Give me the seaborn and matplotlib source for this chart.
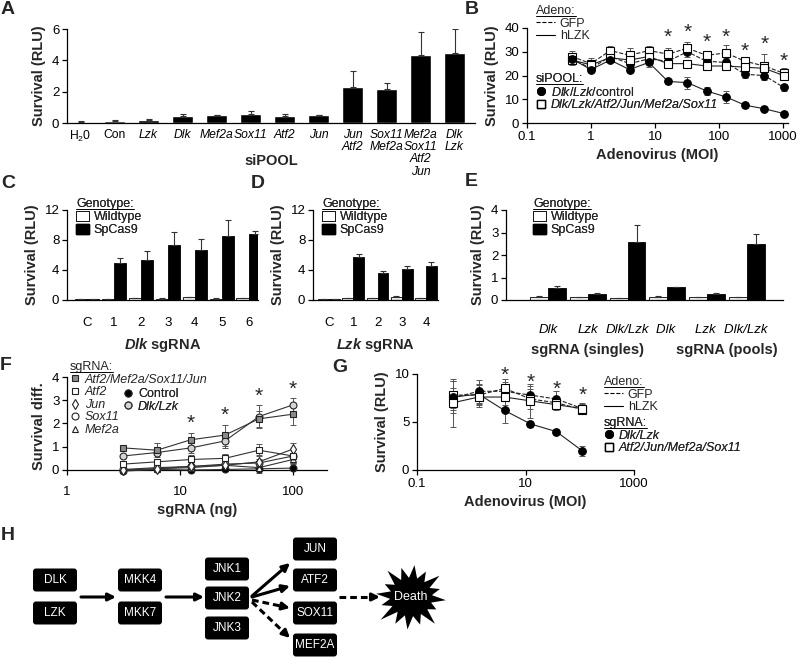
import numpy as np
import pandas as pd
import seaborn as sns
import matplotlib.pyplot as plt
from matplotlib import font_manager as fm
from matplotlib.lines import Line2D
from matplotlib.patches import Patch, FancyBboxPatch, Polygon
from matplotlib.transforms import blended_transform_factory

sns.set_theme(style='ticks')
plt.rcParams['font.family'] = ['Liberation Sans', 'DejaVu Sans']


def pick_italic():
    # want an upright-weight italic; some families only ship bold italic
    for fam in ['Liberation Sans', 'Arimo', 'Noto Sans', 'Open Sans', 'Roboto', 'Lato', 'Inter', 'DejaVu Sans']:
        for f in fm.fontManager.ttflist:
            if f.name == fam and f.style in ('italic', 'oblique') and f.weight in (400, 'normal', 'regular', 'book'):
                return fam
    return 'DejaVu Sans'


ITAL = pick_italic()
plt.rcParams.update({
    'mathtext.fontset': 'custom',
    'mathtext.rm': 'Liberation Sans',
    'mathtext.it': ITAL + ':italic',
    'mathtext.bf': 'Liberation Sans:bold',
    'axes.linewidth': 0.9,
    'axes.edgecolor': 'black',
    'xtick.color': 'black', 'ytick.color': 'black',
    'xtick.major.size': 3.5, 'ytick.major.size': 3.5,
    'xtick.major.width': 0.9, 'ytick.major.width': 0.9,
    'xtick.labelsize': 9.5, 'ytick.labelsize': 9.5,
    'axes.labelsize': 10.5, 'axes.labelweight': 'bold',
    'legend.fontsize': 9,
})
if 'mathtext.bfit' in plt.rcParams:
    plt.rcParams['mathtext.bfit'] = 'Liberation Sans:italic:bold'


def ital(size=9):
    return fm.FontProperties(family=[ITAL], style='italic', weight='normal', size=size)


# ---- A: siPOOL knockdown
a_labels = ['H$_2$0', 'Con', 'Lzk', 'Dlk', 'Mef2a', 'Sox11', 'Atf2', 'Jun',
            'Jun\nAtf2', 'Sox11\nMef2a', 'Mef2a\nSox11\nAtf2\nJun', 'Dlk\nLzk']
a_vals = [0.08, 0.15, 0.22, 0.45, 0.48, 0.55, 0.42, 0.48, 2.3, 2.15, 4.35, 4.5]
a_err = [0.02, 0.03, 0.03, 0.12, 0.04, 0.22, 0.15, 0.06, 1.0, 0.38, 1.45, 1.5]

# ---- B: adenovirus dose, siPOOL
b_moi = [0.5, 1, 2, 4, 8, 16, 32, 64, 128, 256, 512, 1024]
b_ctrl_gfp = [27, 23, 28, 25, 27, 26, 30, 26, 25.5, 20.5, 20, 15]
b_ctrl_gfp_err = [2, 1.5, 1.5, 2, 1.5, 2, 2, 2, 2, 1.5, 2, 1.5]
b_ctrl_lzk = [27, 22.5, 26.5, 22.5, 25.5, 17.5, 17, 13.5, 11, 7.5, 6, 4]
b_ctrl_lzk_err = [2, 1, 1, 1, 2, 1, 2.5, 1.5, 2.5, 1, 1, 1]
b_kd_gfp = [28, 25, 30.5, 28.5, 30.5, 29, 31.5, 28.5, 29.5, 26, 24, 21]
b_kd_gfp_err = [2.5, 2.5, 2, 3, 2, 2.5, 2.5, 2, 3.5, 2, 5, 2]
b_kd_lzk = [26.5, 24.5, 27.5, 26.5, 28, 25, 25, 24, 24, 23.5, 23, 20]
b_kd_lzk_err = [2, 2, 1.5, 2, 2, 1, 1, 1.5, 1.5, 1.5, 2, 1.5]
b_star_moi = [16, 32, 64, 128, 256, 512, 1024]
b_star_y = [36, 38, 34, 36, 30, 33, 26]

# ---- C: Dlk sgRNA
c_cats = ['C', '1', '2', '3', '4', '5', '6']
c_wt = [0.1, 0.1, 0.3, 0.2, 0.4, 0.2, 0.3]
c_wt_err = [0.02, 0.02, 0.03, 0.03, 0.03, 0.03, 0.03]
c_cas = [0.15, 4.9, 5.3, 7.3, 6.7, 8.5, 8.8]
c_cas_err = [0.05, 0.7, 1.3, 1.8, 1.5, 2.2, 0.4]

# ---- D: Lzk sgRNA
d_cats = ['C', '1', '2', '3', '4']
d_wt = [0.1, 0.3, 0.3, 0.45, 0.25]
d_wt_err = [0.02, 0.03, 0.03, 0.03, 0.03]
d_cas = [0.15, 5.7, 3.6, 4.1, 4.6]
d_cas_err = [0.03, 0.4, 0.3, 0.45, 0.45]

# ---- E: singles vs pools (trailing space keeps categories unique)
e_cats = ['Dlk', 'Lzk', 'Dlk/Lzk', 'Dlk ', 'Lzk ', 'Dlk/Lzk ']
e_wt = [0.15, 0.12, 0.1, 0.15, 0.12, 0.12]
e_wt_err = [0.01, 0.01, 0.01, 0.01, 0.01, 0.01]
e_cas = [0.55, 0.27, 2.6, 0.57, 0.27, 2.5]
e_cas_err = [0.06, 0.03, 0.75, 0.01, 0.04, 0.42]

# ---- F: sgRNA dose
f_ng = [3.125, 6.25, 12.5, 25, 50, 100]
f_pool = [0.95, 0.85, 1.3, 1.5, 2.2, 2.4]
f_pool_err = [0.1, 0.3, 0.3, 0.45, 0.35, 0.45]
f_atf2 = [0.25, 0.35, 0.45, 0.5, 0.85, 0.6]
f_atf2_err = [0.08, 0.1, 0.2, 0.2, 0.25, 0.3]
f_jun = [0.0, 0.05, 0.15, 0.2, 0.35, 0.9]
f_jun_err = [0.05, 0.1, 0.1, 0.15, 0.3, 0.25]
f_sox11 = [0.02, 0.1, 0.15, 0.25, 0.3, 0.6]
f_sox11_err = [0.05, 0.1, 0.1, 0.1, 0.15, 0.3]
f_mef2a = [0.0, 0.05, 0.1, 0.2, 0.1, 0.45]
f_mef2a_err = [0.05, 0.05, 0.1, 0.1, 0.1, 0.2]
f_ctrl = [-0.05, 0.02, 0.0, 0.02, 0.05, 0.08]
f_ctrl_err = [0.03, 0.05, 0.05, 0.05, 0.2, 0.1]
f_dlklzk = [0.6, 0.75, 0.95, 1.25, 2.3, 2.8]
f_dlklzk_err = [0.05, 0.1, 0.2, 0.3, 0.5, 0.3]
f_star_ng = [12.5, 25, 50, 100]
f_star_y = [2.0, 2.35, 3.15, 3.45]

# ---- G: adenovirus dose, sgRNA
g_moi = [0.457, 1.37, 4.12, 12.35, 37.04, 111.1]
g_dl_gfp = [7.5, 8.2, 8.2, 7.8, 7.4, 6.4]
g_dl_gfp_err = [1.0, 1.2, 1.0, 1.0, 0.8, 0.6]
g_dl_lzk = [7.6, 7.9, 6.2, 4.8, 4.0, 2.0]
g_dl_lzk_err = [1.7, 1.0, 1.3, 0.35, 0.3, 0.5]
g_kd_gfp = [7.8, 7.8, 8.5, 7.4, 7.0, 6.3]
g_kd_gfp_err = [1.5, 1.2, 1.0, 1.0, 0.6, 0.5]
g_kd_lzk = [7.0, 7.6, 7.6, 7.2, 6.8, 6.4]
g_kd_lzk_err = [2.5, 0.8, 0.8, 1.8, 0.6, 0.5]
g_star_moi = [4.12, 12.35, 37.04, 111.1]
g_star_y = [9.9, 9.1, 8.4, 7.8]

# ---- H: pathway
h_nodes = ['DLK', 'LZK', 'MKK4', 'MKK7', 'JNK1', 'JNK2', 'JNK3', 'JUN', 'ATF2', 'SOX11', 'MEF2A']

W, H = 800, 657
fig = plt.figure(figsize=(8, 6.57), dpi=100)
to_underline = []


def add_ax(x0, y0, x1, y1):
    return fig.add_axes([x0 / W, 1 - y1 / H, (x1 - x0) / W, (y1 - y0) / H])


def make_legend(ax, handles, labels, title, px, **kw):
    opts = dict(loc='upper left', frameon=False, alignment='left', borderpad=0,
                borderaxespad=0, labelspacing=0.05, handletextpad=0.4,
                fontsize=9, title_fontsize=9)
    opts.update(kw)
    leg = ax.legend(handles, labels, title=title,
                    bbox_to_anchor=(px[0] / W, 1 - px[1] / H),
                    bbox_transform=fig.transFigure, **opts)
    if title:
        to_underline.append(leg.get_title())
    ax.add_artist(leg)
    return leg


def bar_err(ax, container, errs):
    xs = [b.get_x() + b.get_width() / 2 for b in container]
    hs = [b.get_height() for b in container]
    ax.errorbar(xs, hs, yerr=[np.zeros(len(errs)), errs], fmt='none', ecolor='#333333',
                elinewidth=0.8, capsize=2.5, capthick=0.8, zorder=3)


def style_ax(ax):
    sns.despine(ax=ax)
    ax.tick_params(direction='out', pad=2)


def geno_bars(ax, cats, wt, wt_err, cas, cas_err):
    df = pd.DataFrame({'sg': list(cats) * 2,
                       'geno': ['Wildtype'] * len(cats) + ['SpCas9'] * len(cats),
                       'rlu': list(wt) + list(cas)})
    sns.barplot(data=df, x='sg', y='rlu', hue='geno',
                palette={'Wildtype': '#ececec', 'SpCas9': 'black'}, width=0.9,
                edgecolor='black', linewidth=0.6, errorbar=None, saturation=1,
                legend=False, ax=ax)
    for cont, errs in zip(ax.containers, [wt_err, cas_err]):
        bar_err(ax, cont, errs)
    style_ax(ax)
    ax.tick_params(axis='x', length=0, pad=12)
    ax.set_ylabel('Survival (RLU)')


def geno_legend(ax, px):
    make_legend(ax, [Patch(fc='white', ec='black', lw=0.6), Patch(fc='black', ec='black')],
                ['Wildtype', 'SpCas9'], 'Genotype:', px, handlelength=1.0,
                handleheight=0.9)


def dose_lines(ax, x, series):
    for y, err, mk, face, ls in series:
        ax.errorbar(x, y, yerr=err, fmt='none', ecolor='#555555', elinewidth=0.7,
                    capsize=2.5, capthick=0.7, zorder=2)
        sns.lineplot(x=x, y=y, ax=ax, color='#222222', lw=0.8, linestyle=ls,
                     marker=mk, markersize=5.5, markerfacecolor=face,
                     markeredgecolor='black', markeredgewidth=0.8, zorder=3)


def stars(ax, xs, ys):
    for x, y in zip(xs, ys):
        ax.text(x, y, '*', ha='center', va='center', fontsize=15)


# ================= A
axA = add_ax(67, 29, 475, 123)
dfA = pd.DataFrame({'pool': a_labels, 'rlu': a_vals})
sns.barplot(data=dfA, x='pool', y='rlu', color='black', width=0.62, errorbar=None,
            saturation=1, ax=axA)
bar_err(axA, axA.containers[0], a_err)
style_ax(axA)
axA.set_xlim(-0.4, 11.6)
axA.set_ylim(0, 6)
axA.set_yticks([0, 2, 4, 6])
axA.tick_params(axis='x', length=0, pad=4, labelsize=8.7)
for i, t in enumerate(axA.get_xticklabels()):
    if i >= 2:
        t.set_fontproperties(ital(8.7))
    t.set_linespacing(1.05)
axA.set_xlabel('')
axA.set_ylabel('Survival (RLU)')
axA.text(0.5, -0.40, 'siPOOL', transform=axA.transAxes, ha='center', va='center',
         fontweight='bold', fontsize=10.5)

# ================= B
axB = add_ax(527, 28, 788, 123)
axB.set_xscale('log')
dose_lines(axB, b_moi, [
    (b_ctrl_gfp, b_ctrl_gfp_err, 'o', 'black', '--'),
    (b_kd_gfp, b_kd_gfp_err, 's', 'white', '--'),
    (b_kd_lzk, b_kd_lzk_err, 's', 'white', '-'),
    (b_ctrl_lzk, b_ctrl_lzk_err, 'o', 'black', '-'),
])
stars(axB, b_star_moi, b_star_y)
style_ax(axB)
axB.set_xlim(0.1, 1200)
axB.set_ylim(0, 40)
axB.set_xticks([0.1, 1, 10, 100, 1000], ['0.1', '1', '10', '100', '1000'])
axB.minorticks_off()
axB.set_yticks([0, 10, 20, 30, 40])
axB.set_xlabel('Adenovirus (MOI)')
axB.set_ylabel('Survival (RLU)')
make_legend(axB, [Line2D([], [], color='black', ls='--', lw=0.8),
                  Line2D([], [], color='black', lw=0.8)],
            ['GFP', 'hLZK'], 'Adeno:', (536, 5), handlelength=1.5)
legB = make_legend(axB, [Line2D([], [], ls='none', marker='o', mfc='black', mec='black', ms=5.5),
                         Line2D([], [], ls='none', marker='s', mfc='white', mec='black', ms=5.5)],
                   [r'$\mathit{Dlk/Lzk}$/control', 'Dlk/Lzk/Atf2/Jun/Mef2a/Sox11'],
                   'siPOOL:', (536, 73), handlelength=0.8)
legB.get_texts()[1].set_fontproperties(ital(9))

# ================= C
axC = add_ax(67, 210, 258, 300)
geno_bars(axC, c_cats, c_wt, c_wt_err, c_cas, c_cas_err)
axC.set_xlim(-0.75, 6.35)
axC.set_ylim(0, 12)
axC.set_yticks([0, 4, 8, 12])
axC.set_xlabel(r'$\mathbfit{Dlk}$ sgRNA', labelpad=5)
geno_legend(axC, (76, 198))

# ================= D
axD = add_ax(313, 210, 438, 300)
geno_bars(axD, d_cats, d_wt, d_wt_err, d_cas, d_cas_err)
axD.set_xlim(-0.67, 4.5)
axD.set_ylim(0, 12)
axD.set_yticks([0, 4, 8, 12])
axD.set_xlabel(r'$\mathbfit{Lzk}$ sgRNA', labelpad=5)
geno_legend(axD, (322, 198))

# ================= E
axE = add_ax(506, 210, 783, 300)
geno_bars(axE, e_cats, e_wt, e_wt_err, e_cas, e_cas_err)
axE.set_xlim(-1.05, 5.9)
axE.set_ylim(0, 4)
axE.set_yticks([0, 1, 2, 3, 4])
axE.tick_params(axis='x', pad=17)
for t in axE.get_xticklabels():
    t.set_fontproperties(ital(9.5))
axE.set_xlabel('')
tr = blended_transform_factory(axE.transData, axE.transAxes)
axE.text(1, -0.56, 'sgRNA (singles)', transform=tr, ha='center', va='center',
         fontweight='bold', fontsize=10.5)
axE.text(4.5, -0.56, 'sgRNA (pools)', transform=tr, ha='center', va='center',
         fontweight='bold', fontsize=10.5)
geno_legend(axE, (533, 198))

# ================= F
axF = add_ax(67, 377, 327, 474.6)
axF.set_xscale('log')
f_series = [
    (f_ctrl, f_ctrl_err, 'o', 'black'),
    (f_mef2a, f_mef2a_err, '^', 'white'),
    (f_sox11, f_sox11_err, 'o', 'white'),
    (f_jun, f_jun_err, 'd', 'white'),
    (f_atf2, f_atf2_err, 's', 'white'),
    (f_dlklzk, f_dlklzk_err, 'o', '#d4d4d4'),
    (f_pool, f_pool_err, 's', '#8c8c8c'),
]
for y, err, mk, face in f_series:
    axF.errorbar(f_ng, y, yerr=err, fmt='none', ecolor='#555555', elinewidth=0.7,
                 capsize=2.5, capthick=0.7, zorder=2)
    sns.lineplot(x=f_ng, y=y, ax=axF, color='#333333', lw=0.8, marker=mk,
                 markersize=5, markerfacecolor=face, markeredgecolor='#222222',
                 markeredgewidth=0.8, zorder=3)
stars(axF, f_star_ng, f_star_y)
style_ax(axF)
axF.spines['bottom'].set_position(('data', 0))
axF.spines['left'].set_bounds(0, 4)
axF.set_xlim(1, 200)
axF.set_ylim(-0.2, 4)
axF.set_xticks([1, 10, 100], ['1', '10', '100'])
axF.minorticks_off()
axF.set_yticks([0, 1, 2, 3, 4])
axF.tick_params(axis='x', pad=8)
axF.set_xlabel('sgRNA (ng)')
axF.set_ylabel('Survival diff.')


def mh(mk, face, ms=5):
    return Line2D([], [], ls='none', marker=mk, mfc=face, mec='#222222', ms=ms, mew=0.8)


legF = make_legend(axF, [mh('s', '#8c8c8c'), mh('s', 'white'), mh('d', 'white'),
                         mh('o', 'white'), mh('^', 'white')],
                   ['Atf2/Mef2a/Sox11/Jun', 'Atf2', 'Jun', 'Sox11', 'Mef2a'],
                   'sgRNA:', (70, 361), handlelength=0.8)
for t in legF.get_texts():
    t.set_fontproperties(ital(9))
legF2 = make_legend(axF, [mh('o', 'black'), mh('o', '#d4d4d4')],
                    ['Control', 'Dlk/Lzk'], None, (123, 388), handlelength=0.8)
legF2.get_texts()[1].set_fontproperties(ital(9))

# ================= G
axG = add_ax(417, 374, 634, 470)
axG.set_xscale('log')
dose_lines(axG, g_moi, [
    (g_dl_gfp, g_dl_gfp_err, 'o', 'black', '--'),
    (g_kd_gfp, g_kd_gfp_err, 's', 'white', '--'),
    (g_dl_lzk, g_dl_lzk_err, 'o', 'black', '-'),
    (g_kd_lzk, g_kd_lzk_err, 's', 'white', '-'),
])
stars(axG, g_star_moi, g_star_y)
style_ax(axG)
axG.set_xlim(0.1, 1000)
axG.set_ylim(0, 10)
axG.set_xticks([0.1, 10, 1000], ['0.1', '10', '1000'])
axG.minorticks_off()
axG.set_yticks([0, 5, 10])
axG.set_xlabel('Adenovirus (MOI)')
axG.set_ylabel('Survival (RLU)')
make_legend(axG, [Line2D([], [], color='black', ls='--', lw=0.8),
                  Line2D([], [], color='black', lw=0.8)],
            ['GFP', 'hLZK'], 'Adeno:', (604, 376), handlelength=1.5)
legG = make_legend(axG, [Line2D([], [], ls='none', marker='o', mfc='black', mec='black', ms=5.5),
                         Line2D([], [], ls='none', marker='s', mfc='white', mec='black', ms=5.5)],
                   ['Dlk/Lzk', 'Atf2/Jun/Mef2a/Sox11'], 'sgRNA:', (604, 417),
                   handlelength=0.8)
for t in legG.get_texts():
    t.set_fontproperties(ital(9))

# ================= H
axH = fig.add_axes([0, 0, 1, 137 / H])
axH.set_xlim(0, W)
axH.set_ylim(H, H - 137)
axH.axis('off')
node_x = [55, 55, 140, 140, 227, 227, 227, 315, 315, 315, 315]
node_y = [580, 613, 580, 613, 569, 598, 628, 549, 580, 613, 645]
bw, bh = 44, 23
for name, x, y in zip(h_nodes, node_x, node_y):
    axH.add_patch(FancyBboxPatch((x - bw / 2, y - bh / 2), bw, bh,
                                 boxstyle='round,pad=0,rounding_size=3',
                                 fc='black', ec='none'))
    axH.text(x, y, name, color='white', ha='center', va='center', fontsize=8.5)


def arrow(p0, p1, dashed=False):
    if dashed:
        d = np.array(p1) - np.array(p0)
        d = d / np.hypot(*d)
        p_end = np.array(p1) - d * 6
        axH.plot([p0[0], p_end[0]], [p0[1], p_end[1]], color='black', lw=2.2,
                 ls=(0, (2.2, 1.3)), solid_capstyle='butt')
        axH.annotate('', xy=p1, xytext=tuple(np.array(p1) - d * 9),
                     arrowprops=dict(arrowstyle='-|>', lw=2.2, color='black',
                                     mutation_scale=11, shrinkA=0, shrinkB=0))
    else:
        axH.annotate('', xy=p1, xytext=p0,
                     arrowprops=dict(arrowstyle='-|>', lw=2.2, color='black',
                                     mutation_scale=11, shrinkA=0, shrinkB=0))


arrow((81, 597), (116, 597))
arrow((166, 597), (204, 597))
arrow((252, 596), (290, 563))
arrow((252, 597), (290, 586))
arrow((252, 600), (290, 608), dashed=True)
arrow((252, 602), (290, 638), dashed=True)
arrow((339, 597), (380, 597), dashed=True)

spike = [1.0, 0.82, 1.08, 0.9, 1.02, 0.95, 1.12, 0.88, 1.0, 0.85, 1.06, 0.95, 1.0, 0.9, 1.05, 0.86]
ang = np.linspace(0, 2 * np.pi, 2 * len(spike), endpoint=False) + 0.1
rad = np.ravel([[s, 0.6] for s in spike])
cx, cy = 411, 597
axH.add_patch(Polygon(np.c_[cx + 35 * rad * np.cos(ang), cy + 32 * rad * np.sin(ang)],
                      closed=True, fc='black', ec='none'))
axH.text(cx, cy, 'Death', color='white', ha='center', va='center', fontsize=9)

# ================= panel letters
for letter, x, y in [('A', 8, 10), ('B', 472, 9), ('C', 8, 184), ('D', 258, 184),
                     ('E', 471, 182), ('F', 6, 365), ('G', 340, 368), ('H', 8, 536)]:
    fig.text(x / W, 1 - y / H, letter, fontsize=14, fontweight='bold',
             ha='center', va='center')

fig.canvas.draw()
rend = fig.canvas.get_renderer()
for t in to_underline:
    bb = t.get_window_extent(rend)
    fig.add_artist(Line2D([bb.x0 / W, bb.x1 / W], [(bb.y0 + 1.5) / H] * 2,
                          transform=fig.transFigure, color='black', lw=0.7))

fig.savefig('out.png', dpi=100)
